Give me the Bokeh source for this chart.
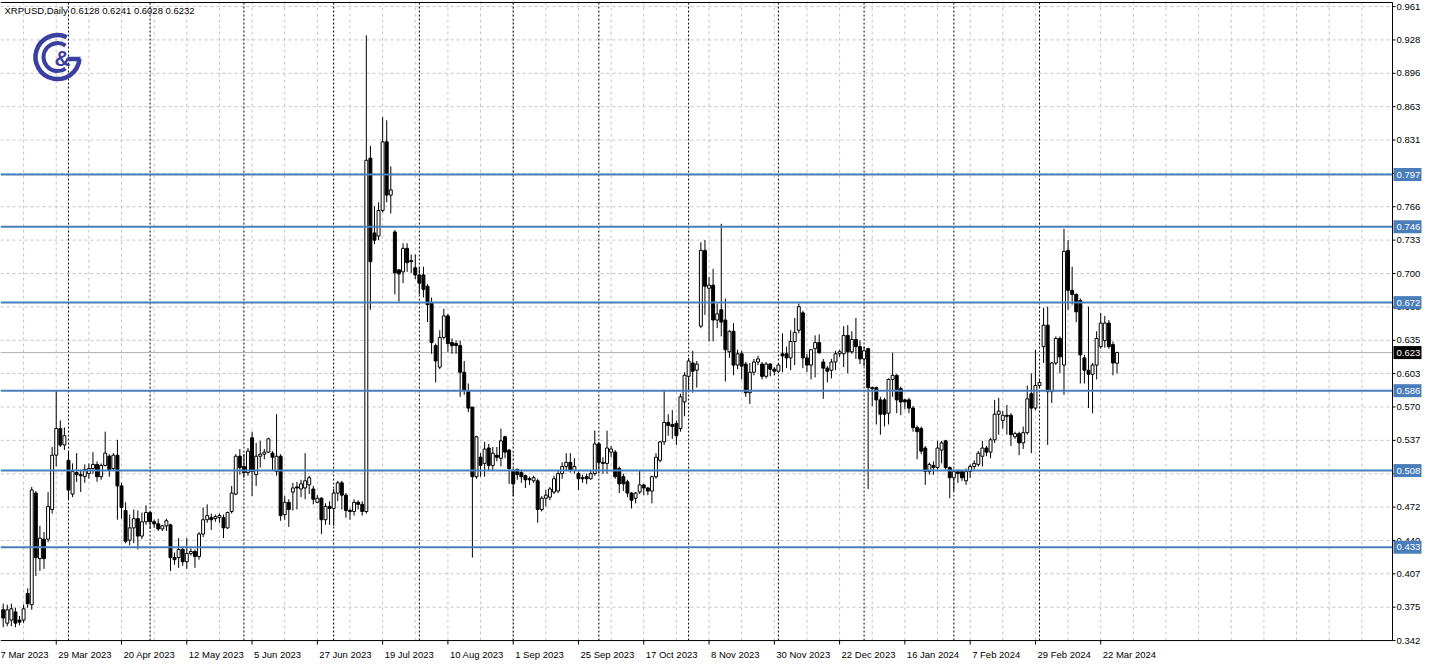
import math
import pandas as pd
from bokeh.plotting import figure
from bokeh.models import ColumnDataSource, FixedTicker, Range1d
from bokeh.embed import file_html
from bokeh.resources import INLINE
from bokeh.core.properties import value

# ---------------- data ----------------
title_text = "XRPUSD,Daily  0.6128 0.6241 0.6028 0.6232"
first_tick_date = "2023-03-07"
first_bar_date = "2023-03-10"
last_bar_date = "2024-03-28"
non_trading_days = ["2024-01-01"]

date_tick_dates = ["2023-03-07", "2023-03-29", "2023-04-20", "2023-05-12", "2023-06-05",
                   "2023-06-27", "2023-07-19", "2023-08-10", "2023-09-01", "2023-09-25",
                   "2023-10-17", "2023-11-08", "2023-11-30", "2023-12-22", "2024-01-16",
                   "2024-02-07", "2024-02-29", "2024-03-22"]
date_tick_labels = ["7 Mar 2023", "29 Mar 2023", "20 Apr 2023", "12 May 2023", "5 Jun 2023",
                    "27 Jun 2023", "19 Jul 2023", "10 Aug 2023", "1 Sep 2023", "25 Sep 2023",
                    "17 Oct 2023", "8 Nov 2023", "30 Nov 2023", "22 Dec 2023", "16 Jan 2024",
                    "7 Feb 2024", "29 Feb 2024", "22 Mar 2024"]

price_tick_values = [0.3420, 0.3746, 0.4072, 0.4397, 0.4723, 0.5049, 0.5375, 0.5701, 0.6027, 0.6352,
                     0.6678, 0.7004, 0.7330, 0.7656, 0.7981, 0.8307, 0.8633, 0.8959, 0.9285, 0.9611]
price_tick_labels = ["0.342", "0.375", "0.407", "0.440", "0.472", "0.505", "0.537", "0.570", "0.603", "0.635",
                     "0.668", "0.700", "0.733", "0.766", "0.798", "0.831", "0.863", "0.896", "0.928", "0.961"]

level_prices = [0.797, 0.746, 0.672, 0.586, 0.508, 0.433]
level_labels = ["0.797", "0.746", "0.672", "0.586", "0.508", "0.433"]
last_price = 0.6232
last_price_label = "0.623"

opens = [
    0.372, 0.359, 0.362, 0.370, 0.362, 0.362, 0.388, 0.377, 0.486, 0.422,
    0.441, 0.441, 0.470, 0.523, 0.549, 0.533, 0.518, 0.485, 0.506, 0.504,
    0.502, 0.505, 0.510, 0.514, 0.502, 0.513, 0.522, 0.510, 0.523, 0.493,
    0.469, 0.440, 0.452, 0.461, 0.444, 0.458, 0.467, 0.458, 0.456, 0.451,
    0.454, 0.455, 0.423, 0.423, 0.431, 0.419, 0.427, 0.429, 0.424, 0.446,
    0.460, 0.462, 0.461, 0.462, 0.462, 0.452, 0.468, 0.485, 0.522, 0.512,
    0.506, 0.540, 0.504, 0.522, 0.524, 0.526, 0.525, 0.507, 0.522, 0.465,
    0.477, 0.487, 0.492, 0.490, 0.491, 0.494, 0.490, 0.477, 0.481, 0.460,
    0.473, 0.471, 0.486, 0.496, 0.484, 0.469, 0.468, 0.477, 0.475, 0.468,
    0.813, 0.740, 0.737, 0.762, 0.829, 0.777, 0.741, 0.704, 0.702, 0.725,
    0.713, 0.706, 0.699, 0.699, 0.688, 0.672, 0.630, 0.609, 0.638, 0.659,
    0.633, 0.632, 0.630, 0.604, 0.585, 0.570, 0.502, 0.521, 0.515, 0.530,
    0.513, 0.523, 0.520, 0.541, 0.528, 0.508, 0.509, 0.506, 0.503, 0.500,
    0.498, 0.498, 0.470, 0.481, 0.482, 0.487, 0.488, 0.505, 0.512, 0.516,
    0.508, 0.505, 0.501, 0.502, 0.500, 0.505, 0.534, 0.516, 0.515, 0.526,
    0.526, 0.510, 0.502, 0.497, 0.486, 0.481, 0.487, 0.494, 0.491, 0.488,
    0.502, 0.518, 0.536, 0.555, 0.553, 0.554, 0.549, 0.575, 0.600, 0.613,
    0.606, 0.649, 0.723, 0.686, 0.689, 0.655, 0.665, 0.655, 0.624, 0.644,
    0.611, 0.622, 0.612, 0.584, 0.604, 0.614, 0.612, 0.600, 0.612, 0.607,
    0.605, 0.622, 0.622, 0.618, 0.634, 0.645, 0.662, 0.618, 0.611, 0.627,
    0.633, 0.614, 0.608, 0.606, 0.614, 0.622, 0.622, 0.640, 0.624, 0.636,
    0.629, 0.617, 0.627, 0.589, 0.589, 0.577, 0.577, 0.564, 0.597, 0.601,
    0.588, 0.577, 0.577, 0.569, 0.550, 0.549, 0.530, 0.507, 0.513, 0.511,
    0.528, 0.537, 0.511, 0.501, 0.507, 0.507, 0.498, 0.507, 0.512, 0.514,
    0.522, 0.530, 0.526, 0.538, 0.563, 0.557, 0.562, 0.562, 0.541, 0.544,
    0.535, 0.545, 0.583, 0.569, 0.591, 0.629, 0.650, 0.585, 0.613, 0.637,
    0.611, 0.723, 0.684, 0.680, 0.674, 0.618, 0.606, 0.602, 0.611, 0.629,
    0.635, 0.652, 0.631, 0.6128,
]
highs = [
    0.378, 0.377, 0.378, 0.374, 0.366, 0.377, 0.393, 0.492, 0.488, 0.454,
    0.448, 0.487, 0.531, 0.586, 0.557, 0.550, 0.526, 0.515, 0.525, 0.509,
    0.514, 0.515, 0.526, 0.517, 0.515, 0.546, 0.524, 0.525, 0.538, 0.496,
    0.477, 0.465, 0.470, 0.469, 0.467, 0.474, 0.468, 0.460, 0.461, 0.455,
    0.461, 0.456, 0.428, 0.442, 0.434, 0.442, 0.432, 0.431, 0.448, 0.472,
    0.475, 0.466, 0.465, 0.466, 0.465, 0.468, 0.493, 0.524, 0.529, 0.524,
    0.530, 0.546, 0.535, 0.537, 0.529, 0.540, 0.527, 0.563, 0.524, 0.483,
    0.480, 0.496, 0.497, 0.499, 0.525, 0.503, 0.493, 0.484, 0.482, 0.476,
    0.478, 0.490, 0.498, 0.498, 0.486, 0.471, 0.480, 0.479, 0.478, 0.933,
    0.825, 0.766, 0.770, 0.853, 0.850, 0.805, 0.743, 0.704, 0.730, 0.730,
    0.719, 0.719, 0.707, 0.707, 0.690, 0.677, 0.632, 0.645, 0.666, 0.661,
    0.637, 0.635, 0.635, 0.615, 0.593, 0.570, 0.542, 0.525, 0.536, 0.534,
    0.531, 0.531, 0.549, 0.542, 0.529, 0.510, 0.510, 0.508, 0.504, 0.502,
    0.503, 0.500, 0.483, 0.489, 0.492, 0.503, 0.508, 0.516, 0.525, 0.525,
    0.520, 0.507, 0.504, 0.505, 0.508, 0.547, 0.536, 0.521, 0.547, 0.532,
    0.528, 0.512, 0.505, 0.499, 0.487, 0.487, 0.508, 0.495, 0.492, 0.503,
    0.525, 0.537, 0.586, 0.563, 0.567, 0.557, 0.583, 0.604, 0.618, 0.625,
    0.615, 0.731, 0.733, 0.697, 0.705, 0.671, 0.749, 0.676, 0.645, 0.652,
    0.626, 0.625, 0.614, 0.613, 0.617, 0.620, 0.614, 0.614, 0.613, 0.609,
    0.613, 0.642, 0.629, 0.645, 0.657, 0.671, 0.664, 0.622, 0.626, 0.640,
    0.641, 0.617, 0.610, 0.617, 0.625, 0.626, 0.649, 0.650, 0.644, 0.657,
    0.635, 0.629, 0.628, 0.590, 0.590, 0.580, 0.579, 0.598, 0.623, 0.602,
    0.590, 0.578, 0.579, 0.571, 0.552, 0.551, 0.532, 0.516, 0.517, 0.537,
    0.537, 0.538, 0.512, 0.509, 0.509, 0.508, 0.510, 0.514, 0.518, 0.527,
    0.537, 0.532, 0.540, 0.577, 0.579, 0.566, 0.572, 0.564, 0.546, 0.546,
    0.551, 0.591, 0.603, 0.626, 0.597, 0.667, 0.668, 0.614, 0.639, 0.639,
    0.744, 0.733, 0.707, 0.681, 0.676, 0.621, 0.668, 0.613, 0.644, 0.662,
    0.659, 0.655, 0.634, 0.6241,
]
lows = [
    0.355, 0.356, 0.356, 0.355, 0.357, 0.359, 0.374, 0.372, 0.405, 0.410,
    0.412, 0.438, 0.466, 0.512, 0.531, 0.528, 0.480, 0.482, 0.497, 0.487,
    0.496, 0.500, 0.505, 0.497, 0.499, 0.512, 0.502, 0.508, 0.460, 0.461,
    0.437, 0.435, 0.437, 0.431, 0.441, 0.455, 0.451, 0.452, 0.449, 0.449,
    0.449, 0.410, 0.416, 0.413, 0.415, 0.412, 0.425, 0.413, 0.421, 0.443,
    0.457, 0.450, 0.458, 0.457, 0.442, 0.451, 0.466, 0.484, 0.504, 0.501,
    0.503, 0.483, 0.493, 0.511, 0.519, 0.525, 0.508, 0.503, 0.459, 0.460,
    0.453, 0.469, 0.470, 0.482, 0.480, 0.485, 0.475, 0.476, 0.446, 0.455,
    0.455, 0.454, 0.478, 0.470, 0.462, 0.460, 0.464, 0.470, 0.464, 0.466,
    0.665, 0.729, 0.733, 0.760, 0.770, 0.759, 0.680, 0.673, 0.691, 0.702,
    0.701, 0.695, 0.680, 0.677, 0.653, 0.622, 0.594, 0.607, 0.636, 0.624,
    0.622, 0.622, 0.580, 0.582, 0.565, 0.423, 0.500, 0.502, 0.502, 0.508,
    0.508, 0.517, 0.512, 0.520, 0.495, 0.483, 0.499, 0.496, 0.491, 0.494,
    0.496, 0.457, 0.468, 0.473, 0.479, 0.485, 0.486, 0.500, 0.508, 0.506,
    0.505, 0.489, 0.496, 0.495, 0.499, 0.503, 0.505, 0.505, 0.505, 0.521,
    0.500, 0.486, 0.488, 0.482, 0.471, 0.476, 0.485, 0.484, 0.484, 0.476,
    0.500, 0.516, 0.533, 0.542, 0.539, 0.533, 0.546, 0.561, 0.586, 0.584,
    0.589, 0.647, 0.660, 0.634, 0.634, 0.647, 0.639, 0.595, 0.618, 0.601,
    0.607, 0.597, 0.580, 0.573, 0.601, 0.611, 0.597, 0.598, 0.600, 0.601,
    0.603, 0.604, 0.608, 0.606, 0.611, 0.642, 0.608, 0.604, 0.597, 0.599,
    0.622, 0.578, 0.594, 0.598, 0.606, 0.619, 0.609, 0.603, 0.622, 0.617,
    0.612, 0.610, 0.490, 0.571, 0.553, 0.543, 0.551, 0.553, 0.580, 0.564,
    0.562, 0.568, 0.564, 0.546, 0.519, 0.524, 0.494, 0.504, 0.504, 0.509,
    0.515, 0.509, 0.481, 0.488, 0.496, 0.498, 0.494, 0.501, 0.509, 0.512,
    0.512, 0.522, 0.520, 0.535, 0.543, 0.549, 0.543, 0.532, 0.539, 0.523,
    0.529, 0.543, 0.525, 0.567, 0.589, 0.613, 0.533, 0.574, 0.611, 0.603,
    0.582, 0.665, 0.670, 0.653, 0.593, 0.593, 0.569, 0.564, 0.597, 0.627,
    0.628, 0.627, 0.601, 0.6028,
]
closes = [
    0.364, 0.372, 0.373, 0.359, 0.360, 0.373, 0.378, 0.489, 0.423, 0.442,
    0.422, 0.473, 0.523, 0.549, 0.533, 0.542, 0.489, 0.507, 0.504, 0.503,
    0.509, 0.510, 0.514, 0.502, 0.513, 0.525, 0.508, 0.523, 0.493, 0.472,
    0.439, 0.452, 0.461, 0.444, 0.458, 0.467, 0.458, 0.456, 0.451, 0.454,
    0.459, 0.423, 0.421, 0.431, 0.419, 0.427, 0.429, 0.424, 0.446, 0.460,
    0.464, 0.460, 0.463, 0.464, 0.452, 0.467, 0.486, 0.522, 0.511, 0.506,
    0.527, 0.507, 0.522, 0.524, 0.526, 0.539, 0.521, 0.522, 0.464, 0.477,
    0.470, 0.491, 0.491, 0.495, 0.498, 0.501, 0.480, 0.481, 0.460, 0.473,
    0.471, 0.486, 0.496, 0.484, 0.469, 0.468, 0.477, 0.475, 0.468, 0.811,
    0.712, 0.733, 0.762, 0.829, 0.777, 0.782, 0.701, 0.700, 0.725, 0.711,
    0.712, 0.699, 0.691, 0.685, 0.670, 0.633, 0.615, 0.638, 0.659, 0.632,
    0.630, 0.630, 0.604, 0.586, 0.569, 0.502, 0.541, 0.513, 0.529, 0.513,
    0.525, 0.521, 0.537, 0.526, 0.510, 0.495, 0.504, 0.502, 0.499, 0.499,
    0.501, 0.470, 0.481, 0.484, 0.490, 0.500, 0.505, 0.512, 0.516, 0.508,
    0.512, 0.500, 0.500, 0.500, 0.505, 0.534, 0.516, 0.515, 0.530, 0.529,
    0.502, 0.495, 0.495, 0.486, 0.479, 0.486, 0.494, 0.491, 0.488, 0.502,
    0.521, 0.536, 0.555, 0.552, 0.551, 0.542, 0.580, 0.601, 0.615, 0.605,
    0.612, 0.723, 0.688, 0.689, 0.655, 0.661, 0.653, 0.626, 0.644, 0.611,
    0.622, 0.610, 0.584, 0.604, 0.614, 0.617, 0.600, 0.612, 0.607, 0.605,
    0.611, 0.620, 0.618, 0.634, 0.643, 0.668, 0.618, 0.611, 0.626, 0.633,
    0.623, 0.608, 0.605, 0.614, 0.622, 0.624, 0.640, 0.624, 0.636, 0.629,
    0.617, 0.625, 0.589, 0.588, 0.577, 0.563, 0.563, 0.597, 0.601, 0.577,
    0.575, 0.575, 0.569, 0.550, 0.546, 0.527, 0.507, 0.514, 0.511, 0.530,
    0.535, 0.511, 0.501, 0.507, 0.505, 0.501, 0.507, 0.512, 0.515, 0.525,
    0.530, 0.526, 0.538, 0.563, 0.566, 0.562, 0.561, 0.543, 0.544, 0.535,
    0.545, 0.578, 0.569, 0.591, 0.594, 0.650, 0.585, 0.613, 0.637, 0.619,
    0.722, 0.684, 0.680, 0.663, 0.621, 0.606, 0.602, 0.611, 0.637, 0.652,
    0.652, 0.629, 0.613, 0.6232,
]

# ---------------- bar positions from the trading calendar ----------------
all_days = pd.bdate_range(first_tick_date, last_bar_date)
all_days = all_days[~all_days.isin(pd.to_datetime(non_trading_days))]
first_pos = all_days.get_loc(pd.Timestamp(first_bar_date))
bar_days = all_days[first_pos:]
n = min(len(bar_days), len(opens), len(highs), len(lows), len(closes))
idx = list(range(n))


def bar_index(d):
    return int(all_days.get_loc(pd.Timestamp(d))) - first_pos


tick_pos = [bar_index(d) for d in date_tick_dates]
month_sep = [i for i in range(1, n) if bar_days[i].month != bar_days[i - 1].month]

# ---------------- layout ----------------
W, H = 1422, 662
BAR_PX = 4.08                 # horizontal pixels per bar
REF_PX = 0.000969             # price per vertical pixel in the reference
EDGE_PX = 1392                # chart right edge (price scale starts here)
X0 = -0.66
X1 = X0 + W / BAR_PX
FONT = "Liberation Sans"
FS = "9.5px"
BLUE = "#4A7EBB"
LOGO = "#3B3F9F"
GRID = "#C4C4C4"


def fx(px):
    return X0 + px / BAR_PX


def fy(row):
    return 0.342 + (645 - row) * REF_PX


X_EDGE = fx(EDGE_PX)
Y_BOT = price_tick_values[0]
Y0, Y1 = fy(652), fy(0)

p = figure(width=W, height=H, x_range=Range1d(X0, X1), y_range=Range1d(Y0, Y1),
           y_axis_location=None, output_backend="svg", toolbar_location=None,
           min_border_left=0, min_border_right=0, min_border_top=0, min_border_bottom=0)
p.background_fill_color = "white"
p.border_fill_color = "white"
p.outline_line_color = None
p.grid.visible = False

# time axis: labels start just right of their date tick (MT-style)
CHAR_W = {" ": 278, "M": 833, "a": 556, "r": 333, "A": 667, "p": 556, "y": 500, "J": 500,
          "u": 556, "n": 556, "l": 222, "g": 556, "S": 667, "e": 556, "O": 778, "c": 500,
          "t": 278, "N": 722, "o": 556, "v": 500, "D": 722, "F": 611, "b": 556}


def text_px(s):
    return sum(CHAR_W.get(ch, 556) for ch in s) / 1000.0 * 9.5


label_centers = [pos + (2 + text_px(lab) / 2) / BAR_PX for pos, lab in zip(tick_pos, date_tick_labels)]
xax = p.xaxis[0]
xax.ticker = FixedTicker(ticks=label_centers)
xax.major_label_overrides = {c: lab for c, lab in zip(label_centers, date_tick_labels)}
xax.axis_line_color = None
xax.major_tick_line_color = None
xax.minor_tick_line_color = None
xax.major_tick_out = 0
xax.major_tick_in = 0
xax.major_label_standoff = 1
xax.major_label_text_font = FONT
xax.major_label_text_font_size = FS
xax.major_label_text_color = "black"

# grid
n_t = len(price_tick_values)
p.segment(x0=[X0] * n_t, y0=price_tick_values, x1=[X_EDGE] * n_t, y1=price_tick_values,
          line_color=GRID, line_dash="3 3", line_width=1)
grid_pos = [g for g in range(tick_pos[0], int(X_EDGE) + 1, 8) if X0 < g < X_EDGE]
p.segment(x0=grid_pos, y0=[Y_BOT] * len(grid_pos), x1=grid_pos, y1=[Y1] * len(grid_pos),
          line_color=GRID, line_dash="3 3", line_width=1)

# month separators
p.segment(x0=month_sep, y0=[Y_BOT] * len(month_sep), x1=month_sep, y1=[Y1] * len(month_sep),
          line_color="black", line_dash="2 2", line_width=1)

# last price line
p.segment(x0=[X0], y0=[last_price], x1=[X_EDGE], y1=[last_price], line_color="#B0B0B0", line_width=1)

# candles
o, h, l, c = opens[:n], highs[:n], lows[:n], closes[:n]
src = ColumnDataSource(dict(
    x=idx, o=o, c=c,
    hi=[max(a, b, d) for a, b, d in zip(h, o, c)],
    lo=[min(a, b, d) for a, b, d in zip(l, o, c)],
    top=[max(a, b) for a, b in zip(o, c)],
    bottom=[min(a, b) for a, b in zip(o, c)],
    fill=["white" if cc >= oo else "black" for oo, cc in zip(o, c)],
))
p.segment(x0="x", y0="lo", x1="x", y1="hi", source=src, line_color="black", line_width=1)
p.vbar(x="x", top="top", bottom="bottom", width=0.72, source=src,
       fill_color="fill", line_color="black", line_width=1)

# horizontal levels
n_l = len(level_prices)
p.segment(x0=[X0] * n_l, y0=level_prices, x1=[X_EDGE] * n_l, y1=level_prices,
          line_color=BLUE, line_width=2)

# chart frame lines: top, right (price scale), bottom (time scale)
p.segment(x0=[X0, X_EDGE, X0], y0=[fy(2), Y_BOT, Y_BOT], x1=[X_EDGE, X_EDGE, X_EDGE],
          y1=[fy(2), fy(2), Y_BOT], line_color="black", line_width=1)

# tick marks
p.segment(x0=[X_EDGE] * n_t, y0=price_tick_values, x1=[fx(EDGE_PX + 3)] * n_t, y1=price_tick_values,
          line_color="black", line_width=1)
vis_ticks = [t for t in tick_pos if X0 < t < X_EDGE]
p.segment(x0=vis_ticks, y0=[Y_BOT] * len(vis_ticks), x1=vis_ticks,
          y1=[Y_BOT - 4 * REF_PX] * len(vis_ticks), line_color="black", line_width=1)

# price scale labels (those hidden behind a price tag are not drawn)
shown = [(v, s) for v, s in zip(price_tick_values, price_tick_labels)
         if all(abs(v - lv) > 2.5 * REF_PX for lv in level_prices)]
p.text(x=[fx(EDGE_PX + 4)] * len(shown), y=[v for v, _ in shown], text=[s for _, s in shown],
       text_font=value(FONT), text_font_size=FS, text_color="black",
       text_align="left", text_baseline="middle")

# price tags
tag_y = level_prices + [last_price]
tag_txt = level_labels + [last_price_label]
tag_col = [BLUE] * n_l + ["black"]
p.rect(x=[fx(EDGE_PX + 15)] * len(tag_y), y=tag_y, width=28, height=13,
       width_units="screen", height_units="screen", fill_color=tag_col, line_color=None)
p.text(x=[fx(EDGE_PX + 4)] * len(tag_y), y=tag_y, text=tag_txt,
       text_font=value(FONT), text_font_size=FS, text_color="white",
       text_align="left", text_baseline="middle")

# header
p.text(x=[fx(4)], y=[fy(5)], text=[title_text], text_font=value(FONT), text_font_size=FS,
       text_color="black", text_align="left", text_baseline="top")

# logo
p.arc(x=[fx(57)], y=[fy(57)], radius=22, radius_units="screen",
      start_angle=math.radians(65), end_angle=math.radians(-5), direction="anticlock",
      line_color=LOGO, line_width=4.5)
p.segment(x0=[fx(80)], y0=[fy(59)], x1=[fx(67)], y1=[fy(59)], line_color=LOGO, line_width=4.5)
p.arc(x=[fx(57)], y=[fy(57)], radius=14, radius_units="screen",
      start_angle=math.radians(55), end_angle=math.radians(-55), direction="anticlock",
      line_color=LOGO, line_width=4)
p.text(x=[fx(62)], y=[fy(58)], text=["&"], text_font=value(FONT), text_font_size="22px",
       text_font_style="bold", text_color=LOGO, text_align="center", text_baseline="middle")

open("out.html", "w").write(file_html(p, INLINE))
